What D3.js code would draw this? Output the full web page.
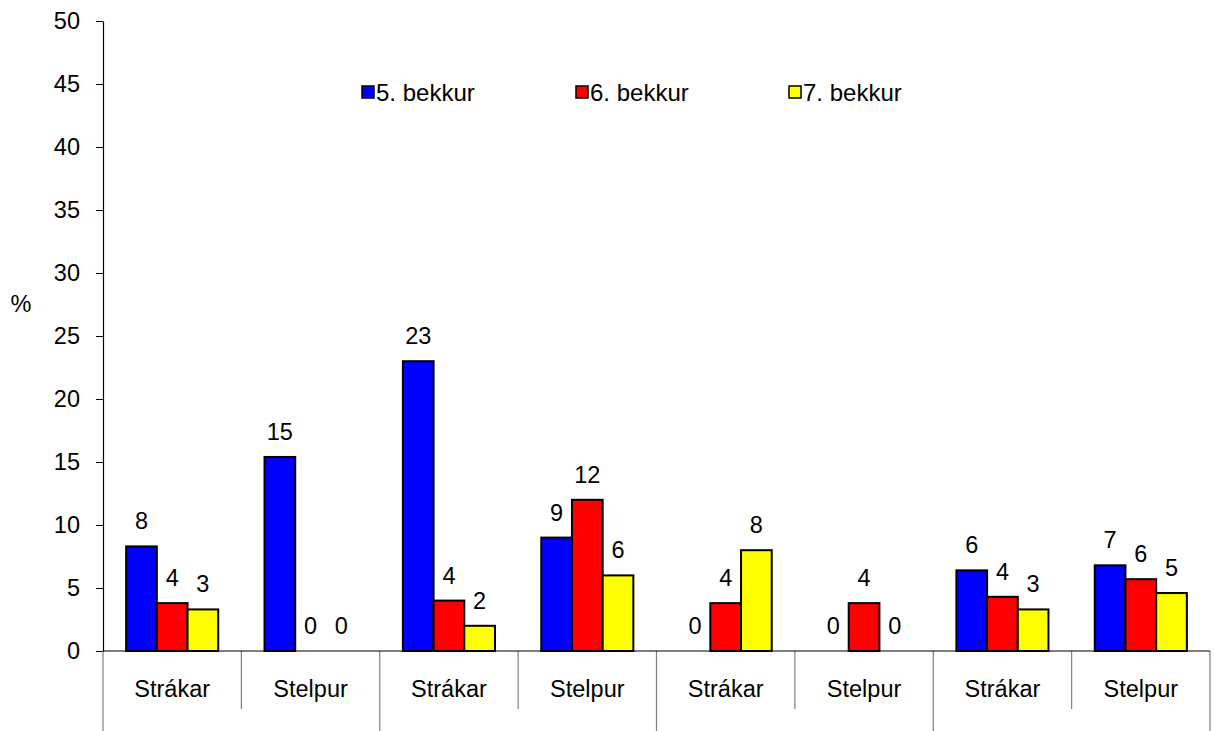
<!DOCTYPE html>
<html>
<head>
<meta charset="utf-8">
<script src="https://cdn.jsdelivr.net/npm/d3@7"></script>
<style>
  html, body { margin: 0; padding: 0; background: #fff; }
  svg { display: block; font-family: "Liberation Sans", Arial, sans-serif; }
</style>
</head>
<body>
<svg id="chart" width="1214" height="731"></svg>
<script>
const categories = ["Strákar", "Stelpur", "Strákar", "Stelpur", "Strákar", "Stelpur", "Strákar", "Stelpur"];
const seriesNames = ["5. bekkur", "6. bekkur", "7. bekkur"];
const bekkur5 = [8.3, 15.4, 23.0, 9.0, 0, 0, 6.4, 6.8];
const bekkur6 = [3.8, 0, 4.0, 12.0, 3.8, 3.8, 4.3, 5.7];
const bekkur7 = [3.3, 0, 2.0, 6.0, 8.0, 0, 3.3, 4.6];
const seriesColors = ["#0000ff", "#ff0000", "#ffff00"];
const yTicks = [0, 5, 10, 15, 20, 25, 30, 35, 40, 45, 50];

(function () {
const seriesValues = [bekkur5, bekkur6, bekkur7];
const svg = d3.select("#chart");
const fontSize = 23.5;

const mLeft = 103, mRight = 1210, mTop = 21, mBottom = 651;

const y = d3.scaleLinear().domain([0, 50]).range([mBottom, mTop]);
const x0 = d3.scaleBand().domain(d3.range(categories.length)).range([mLeft, mRight]).padding(0);
const x1 = d3.scaleBand().domain(d3.range(seriesNames.length)).range([0, x0.bandwidth()])
  .paddingInner(0).paddingOuter(0.754);

// Y axis
const yAxis = d3.axisLeft(y).tickValues(yTicks).tickSize(7).tickPadding(16).tickSizeOuter(0);
const gy = svg.append("g").attr("transform", `translate(${mLeft},0)`).call(yAxis);
gy.select(".domain").attr("stroke", "#000").attr("stroke-width", 1.2);
gy.selectAll(".tick line").attr("stroke", "#000");
gy.selectAll(".tick text").attr("font-size", fontSize).attr("fill", "#000")
  .attr("font-family", "Liberation Sans, Arial, sans-serif");

// % label
svg.append("text").attr("x", 21).attr("y", 312).attr("text-anchor", "middle")
  .attr("font-size", fontSize).text("%");

// Divider lines under the x axis
const boundaries = d3.range(categories.length + 1);
svg.append("g").selectAll("line").data(boundaries).join("line")
  .attr("x1", i => i === categories.length ? mRight : x0(i))
  .attr("x2", i => i === categories.length ? mRight : x0(i))
  .attr("y1", mBottom)
  .attr("y2", i => i % 2 === 0 ? 731 : 709)
  .attr("stroke", "#7f7f7f").attr("stroke-width", 1.2);

// Bars
const groups = svg.append("g").selectAll("g").data(categories.map((c, i) => i)).join("g")
  .attr("transform", i => `translate(${x0(i)},0)`);

groups.selectAll("rect")
  .data(i => seriesValues.map((vals, s) => ({ s, v: vals[i] })).filter(d => d.v > 0))
  .join("rect")
  .attr("x", d => x1(d.s))
  .attr("width", x1.bandwidth())
  .attr("y", d => y(d.v))
  .attr("height", d => y(0) - y(d.v))
  .attr("fill", d => seriesColors[d.s])
  .attr("stroke", "#000").attr("stroke-width", 2);

groups.selectAll("text")
  .data(i => seriesValues.map((vals, s) => ({ s, v: vals[i] })))
  .join("text")
  .attr("x", d => x1(d.s) + x1.bandwidth() / 2)
  .attr("y", d => y(d.v) - 17)
  .attr("text-anchor", "middle")
  .attr("font-size", fontSize)
  .text(d => Math.round(d.v));

// X axis line
svg.append("line").attr("x1", mLeft).attr("x2", mRight).attr("y1", mBottom).attr("y2", mBottom)
  .attr("stroke", "#000").attr("stroke-width", 1.2);

// Category labels
svg.append("g").selectAll("text").data(categories).join("text")
  .attr("x", (d, i) => x0(i) + x0.bandwidth() / 2)
  .attr("y", 697)
  .attr("text-anchor", "middle")
  .attr("font-size", fontSize)
  .text(d => d);

// Legend
const legendX = [362, 576, 789];
const legend = svg.append("g").selectAll("g").data(seriesNames).join("g")
  .attr("transform", (d, i) => `translate(${legendX[i]},86)`);
legend.append("rect").attr("width", 12).attr("height", 12)
  .attr("fill", (d, i) => seriesColors[i]).attr("stroke", "#000").attr("stroke-width", 1.5);
legend.append("text").attr("x", 14).attr("y", 15).attr("font-size", 24).text(d => d);
})();
</script>
</body>
</html>
